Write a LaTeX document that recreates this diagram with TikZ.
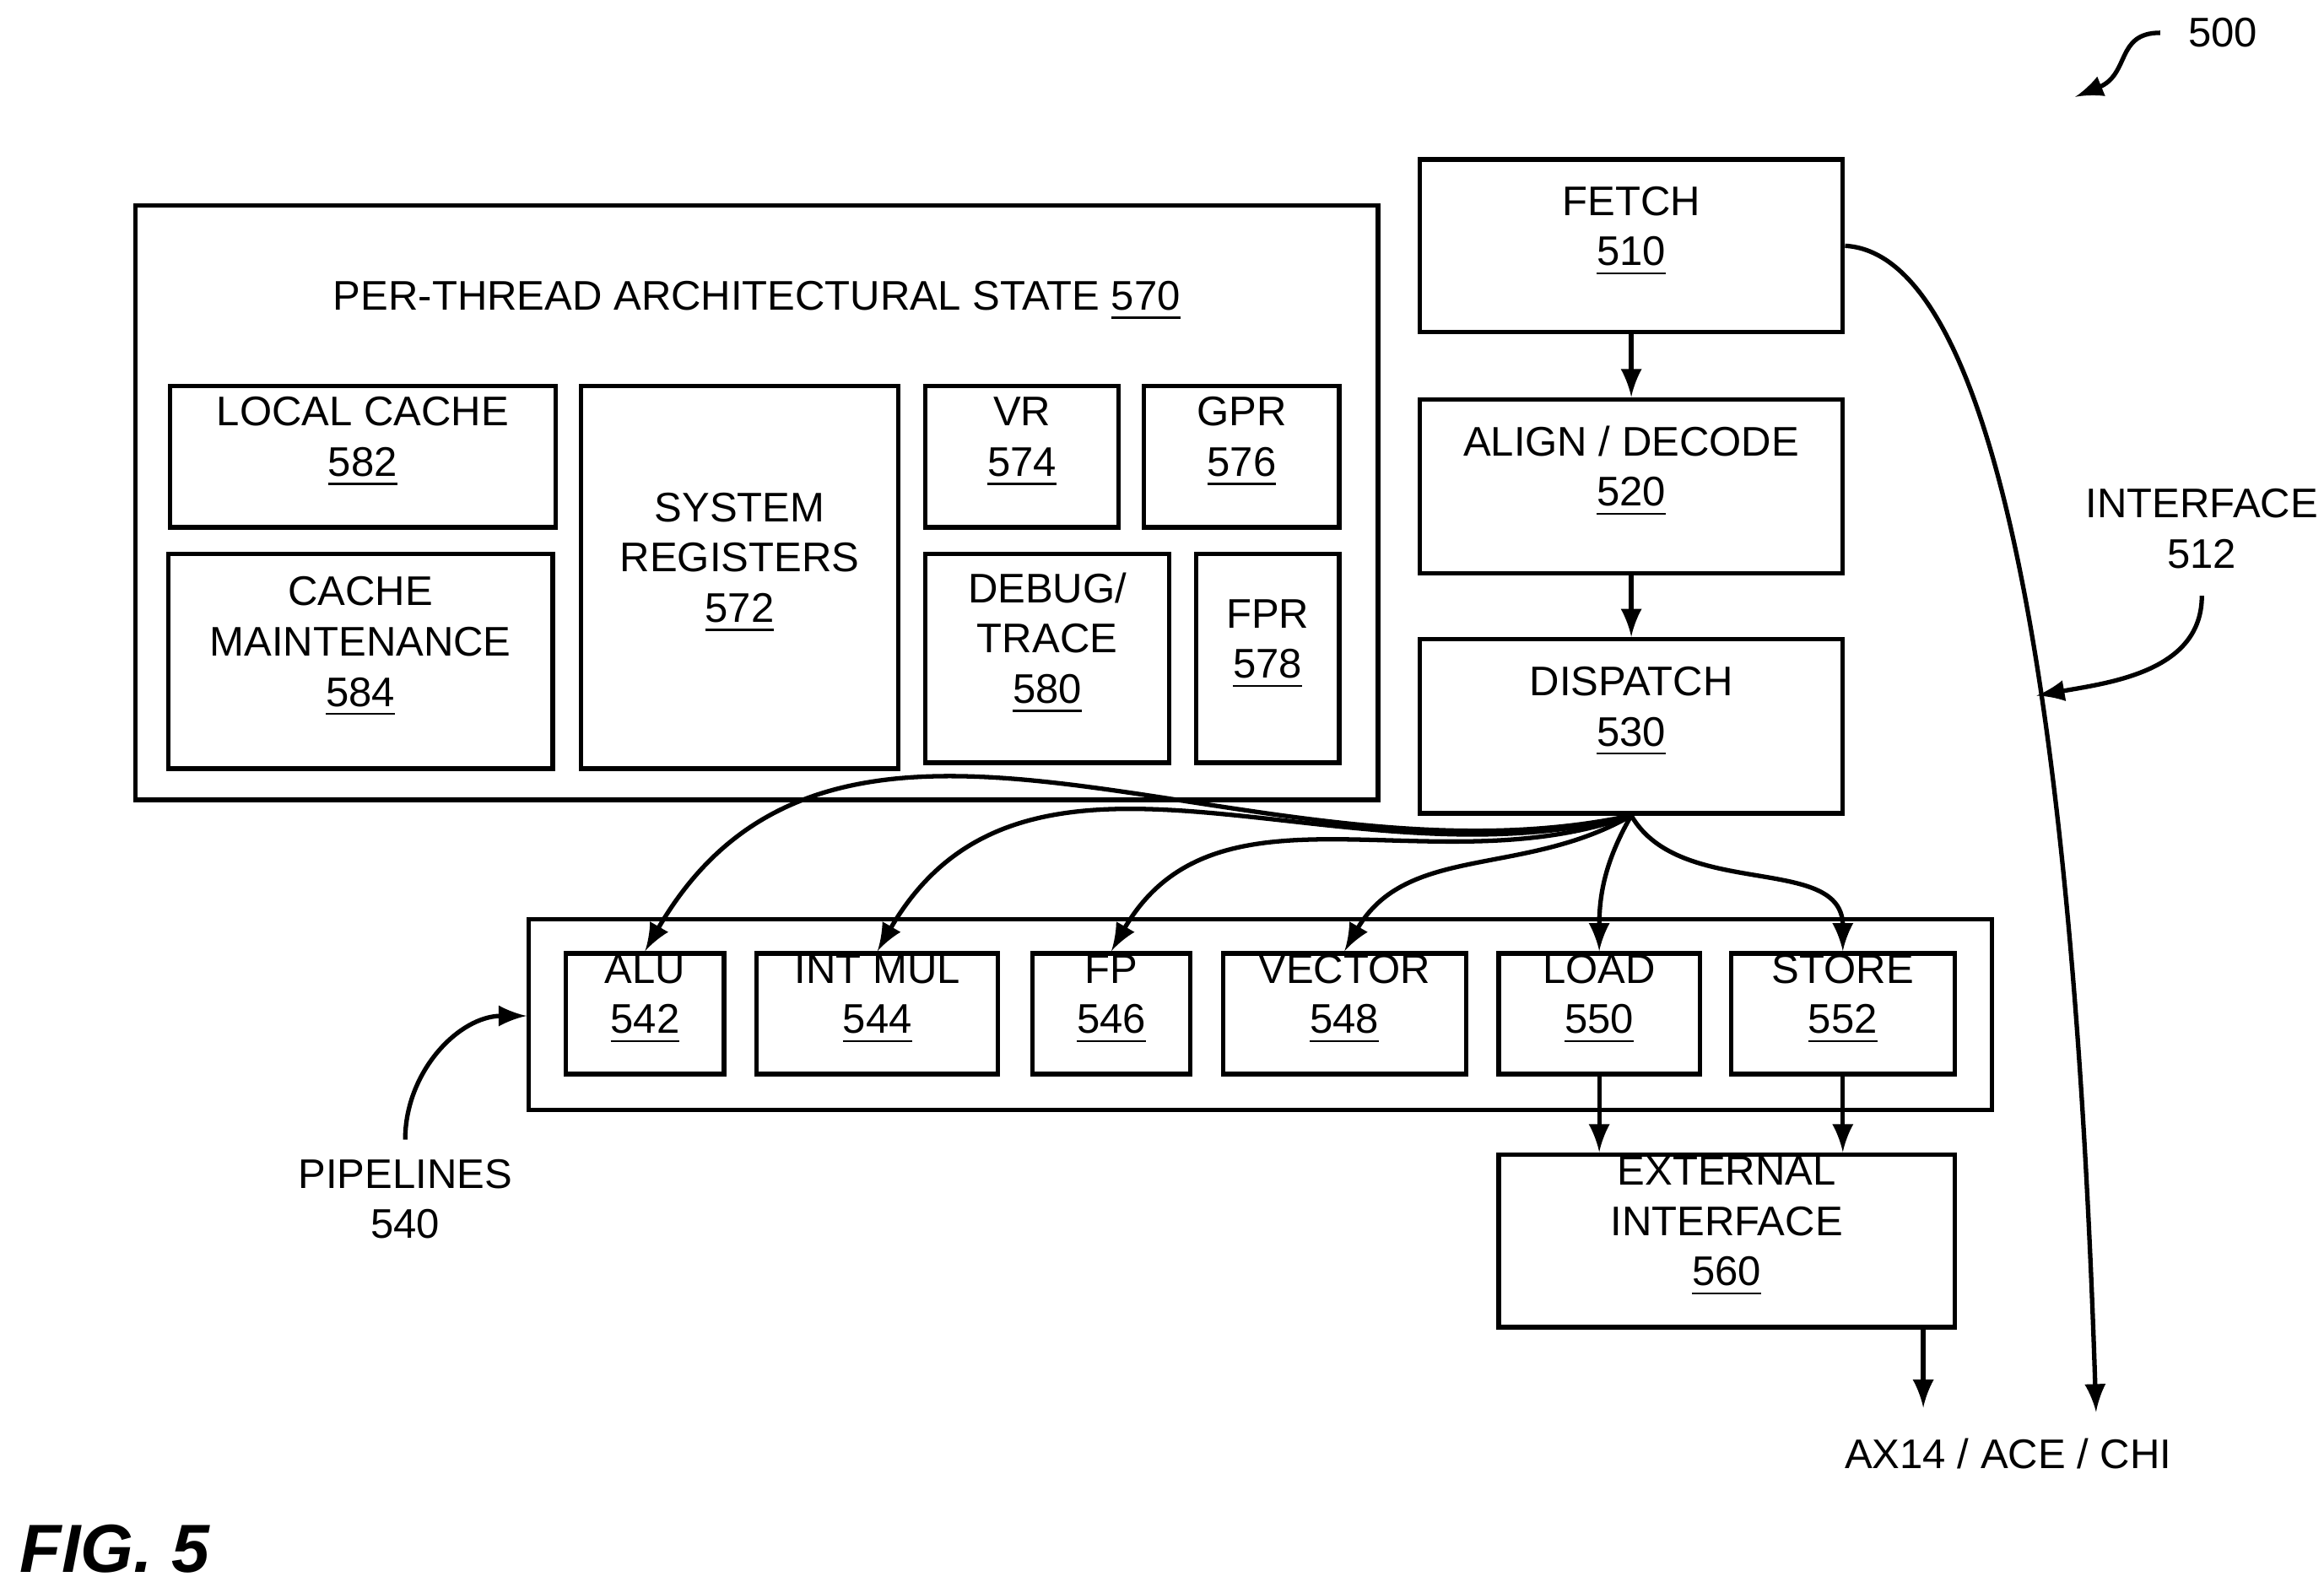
\documentclass[tikz,border=0pt]{standalone}
\usepackage{fontspec}
\setmainfont{Liberation Sans}
\usetikzlibrary{fit}
\begin{document}
\begin{tikzpicture}[x=0.01cm,y=-0.01cm]
	\tikzset{box/.style = {draw, line width=0.85pt, inner sep=0pt, align=center, font=\fontsize{7.9}{9.6}\selectfont}}
	\tikzset{lbl/.style = {align=center, font=\fontsize{7.9}{9.6}\selectfont}}
	\tikzset{arr/.style = {->, >=latex, line width=0.85pt}}
	\useasboundingbox (0,0) rectangle (1560,1062);
	% Architectural state
	\node[box, fit={(91,138) (925,537)}] (state) {};
	\node[lbl] (statelbl) at (508,202) {PER-THREAD ARCHITECTURAL STATE \underline{570}};
	\node[box, fit={(114,259) (373,354)}] (lcache) {LOCAL CACHE\\\underline{582}};
	\node[box, fit={(113,372) (371,516)}] (cmaint) {CACHE\\MAINTENANCE\\\underline{584}};
	\node[box, fit={(390,259) (603,516)}] (sysreg) {SYSTEM\\REGISTERS\\\underline{572}\\[4.2em]};
	\node[box, fit={(621,259) (751,354)}] (vr) {VR\\\underline{574}};
	\node[box, fit={(768,259) (899,354)}] (gpr) {GPR\\\underline{576}};
	\node[box, fit={(621,372) (785,512)}] (debug) {DEBUG/\\TRACE\\\underline{580}};
	\node[box, fit={(803,372) (899,512)}] (fpr) {FPR\\\underline{578}};
	% Front end
	\node[box, fit={(953,107) (1237,223)}] (fetch) {FETCH\\\underline{510}};
	\node[box, fit={(953,268) (1237,385)}] (decode) {ALIGN / DECODE\\\underline{520}};
	\node[box, fit={(953,429) (1237,546)}] (disp) {DISPATCH\\\underline{530}};
	\draw[arr] (fetch) -- (decode);
	\draw[arr] (decode) -- (disp);
	% Pipelines
	\node[box, fit={(355,617) (1337,745)}] (pipes) {};
	\node[box, fit={(380,640) (486,721)}] (alu) {ALU\\\underline{542}};
	\node[box, fit={(508,640) (670,721)}] (mul) {INT MUL\\\underline{544}};
	\node[box, fit={(693,640) (799,721)}] (fp) {FP\\\underline{546}};
	\node[box, fit={(821,640) (984,721)}] (vec) {VECTOR\\\underline{548}};
	\node[box, fit={(1006,640) (1141,721)}] (load) {LOAD\\\underline{550}};
	\node[box, fit={(1162,640) (1312,721)}] (store) {STORE\\\underline{552}};
	\draw[arr] (disp.south) to[out=192,in=60] (alu.north);
	\draw[arr] (disp.south) to[out=195,in=60] (mul.north);
	\draw[arr] (disp.south) to[out=200,in=60] (fp.north);
	\draw[arr] (disp.south) to[out=210,in=60] (vec.north);
	\draw[arr] (disp.south) to[out=-120,in=90] (load.north);
	\draw[arr] (disp.south) to[out=-60,in=90] (store.north);
	% External interface
	\node[box, fit={(1006,775) (1312,891)}] (ext) {EXTERNAL\\INTERFACE\\\underline{560}};
	\draw[arr] (load.south) -- (load.south |- ext.north);
	\draw[arr] (store.south) -- (store.south |- ext.north);
	\coordinate (extout) at (1291,945);
	\draw[arr] (ext.south -| extout) -- (extout);
	\coordinate (ifout) at (1407,948);
	\draw[arr] (fetch.east) .. controls (1330,170) and (1390,420) .. (ifout);
	\node[lbl] (bus) at (1348,976) {AX14 / ACE / CHI};
	% Labels
	\node[lbl] (iflbl) at (1478,355) {INTERFACE\\512};
	\coordinate (ifpt) at (1367,467);
	\draw[arr] (1478,400) to[out=-90,in=10] (ifpt);
	\node[lbl] (pipelbl) at (272,805) {PIPELINES\\540};
	\draw[arr] (272,765) to[out=90,in=180] (pipes.west |- 0,682);
	\node[lbl] (figref) at (1492,22) {500};
	\draw[arr] (1450,22) .. controls (1420,22) and (1430,50) .. (1393,65);
	\node[font=\fontsize{13}{15}\selectfont\bfseries\itshape] (fig) at (77,1040) {FIG. 5};
\end{tikzpicture}
\end{document}
